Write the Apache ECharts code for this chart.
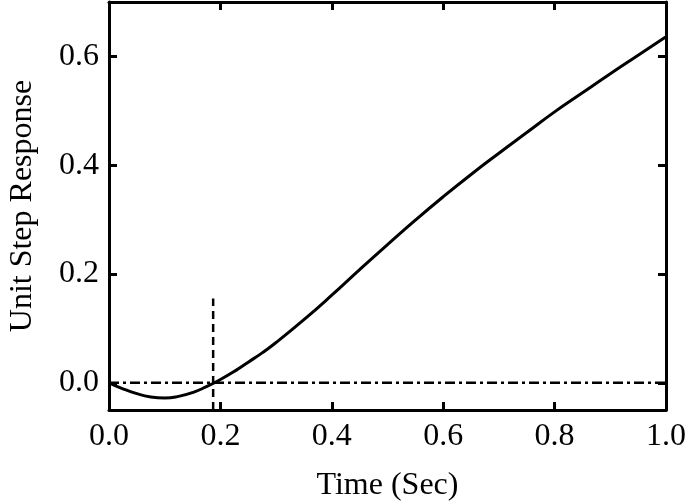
<!DOCTYPE html>
<html>
<head>
<meta charset="utf-8">
<script src="https://cdn.jsdelivr.net/npm/echarts@6/dist/echarts.min.js"></script>
<style>html,body{margin:0;padding:0;background:#fff;}#c{width:685px;height:503px;}</style>
</head>
<body>
<div id="c"></div>
<script>
var timeValues = [0.0,0.025,0.05,0.075,0.1,0.125,0.15,0.175,0.2,0.225,0.25,0.275,0.3,0.35,0.4,0.45,0.5,0.55,0.6,0.65,0.7,0.75,0.8,0.85,0.9,0.95,1.0];
var responseValues = [0.0,-0.011,-0.020,-0.026,-0.028,-0.025,-0.018,-0.007,0.006,0.021,0.038,0.055,0.074,0.116,0.161,0.208,0.254,0.299,0.342,0.383,0.422,0.460,0.498,0.533,0.568,0.602,0.636];
var zeroLineX = [0.0, 1.0];
var zeroLineY = [0.0, 0.0];
var markerX = [0.187, 0.187];
var markerY = [-0.05, 0.155];
var yTicks = [0.0, 0.2, 0.4, 0.6];
var xTitle = 'Time (Sec)';
var yTitle = 'Unit Step Response';

function pairs(xs, ys){ return xs.map(function(x,i){ return [x, ys[i]]; }); }

var font = 'Liberation Serif';
var axisLineStyle = {color:'#000', width:3};
var chart = echarts.init(document.getElementById('c'));
chart.setOption({
  animation:false,
  backgroundColor:'#fff',
  grid:{left:109, right:19, top:2, bottom:93, containLabel:false, outerBoundsMode:'none'},
  xAxis:[{
    type:'value', min:0, max:1, interval:0.2, position:'bottom',
    name:xTitle, nameLocation:'middle', nameGap:60,
    nameTextStyle:{fontFamily:font, fontSize:32, color:'#000'},
    axisLine:{show:true, onZero:false, lineStyle:axisLineStyle},
    axisTick:{show:true, inside:true, length:8, lineStyle:{color:'#000', width:3}},
    axisLabel:{fontFamily:font, fontSize:32, color:'#000', margin:11, formatter:function(v){return v.toFixed(1);}},
    splitLine:{show:false}
  },{
    type:'value', min:0, max:1, interval:0.2, position:'top',
    axisLine:{show:true, onZero:false, lineStyle:axisLineStyle},
    axisTick:{show:true, inside:true, length:8, lineStyle:{color:'#000', width:3}},
    axisLabel:{show:false}, splitLine:{show:false}
  }],
  yAxis:[{
    type:'value', min:-0.05, max:0.7, position:'left',
    name:yTitle, nameLocation:'middle', nameGap:70,
    nameTextStyle:{fontFamily:font, fontSize:32, color:'#000'},
    axisLine:{show:true, onZero:false, lineStyle:axisLineStyle},
    axisTick:{show:true, inside:true, length:8, customValues:yTicks, lineStyle:{color:'#000', width:3}},
    axisLabel:{fontFamily:font, fontSize:32, color:'#000', margin:10, customValues:yTicks, formatter:function(v){return v.toFixed(1);}},
    splitLine:{show:false}
  },{
    type:'value', min:-0.05, max:0.7, position:'right',
    axisLine:{show:true, onZero:false, lineStyle:axisLineStyle},
    axisTick:{show:true, inside:true, length:8, customValues:yTicks, lineStyle:{color:'#000', width:3}},
    axisLabel:{show:false}, splitLine:{show:false}
  }],
  series:[{
    type:'line', xAxisIndex:0, yAxisIndex:0, data:pairs(zeroLineX, zeroLineY),
    showSymbol:false, lineStyle:{color:'#000', width:2.5, type:[10,4,3,4]}, z:2
  },{
    type:'line', xAxisIndex:0, yAxisIndex:0, data:pairs(markerX, markerY),
    showSymbol:false, lineStyle:{color:'#000', width:2.5, type:[8,5]}, z:2
  },{
    type:'line', xAxisIndex:0, yAxisIndex:0, data:pairs(timeValues, responseValues),
    showSymbol:false, smooth:0.5, lineStyle:{color:'#000', width:3}, z:3
  }]
});
</script>
</body>
</html>
